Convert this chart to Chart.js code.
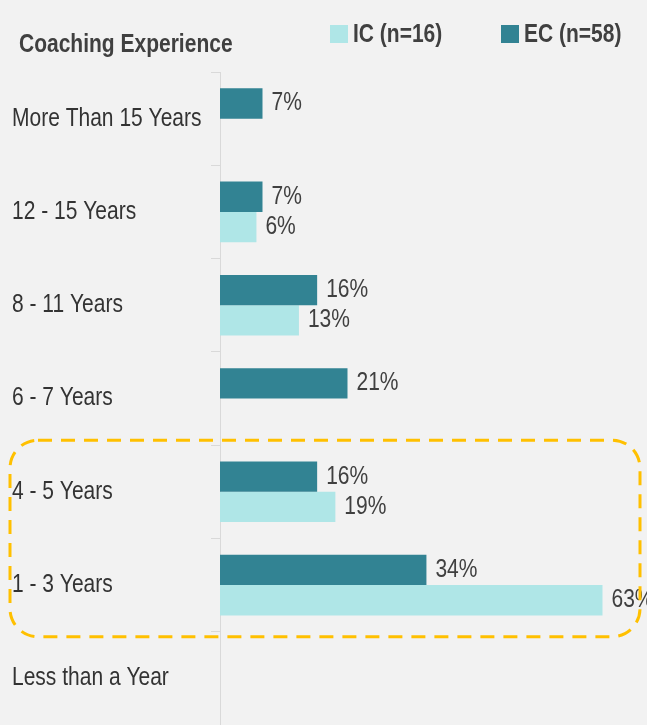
<!DOCTYPE html>
<html>
<head>
<meta charset="utf-8">
<style>
  html, body { margin: 0; padding: 0; background: #f2f2f2; }
  canvas { display: block; }
</style>
<script src="https://cdn.jsdelivr.net/npm/chart.js@4/dist/chart.umd.min.js"></script>
</head>
<body>
<canvas id="chart" width="647" height="725"></canvas>
<script>
// Coaching experience by group, share of respondents (%)
const categories = ['More Than 15 Years', '12 - 15 Years', '8 - 11 Years', '6 - 7 Years', '4 - 5 Years', '1 - 3 Years', 'Less than a Year'];
const ecValues = [7, 7, 16, 21, 16, 34, null];
const icValues = [null, 6, 13, null, 19, 63, null];
const seriesNames = { ic: 'IC (n=16)', ec: 'EC (n=58)' };
const chartTitle = 'Coaching Experience';
// categories highlighted by the dashed frame
const highlighted = ['4 - 5 Years', '1 - 3 Years'];

const EC_COLOR = '#328393';
const IC_COLOR = '#afe6e7';
const TEXT = '#404040';
const FONT = '"Liberation Sans", Arial, sans-serif';
// text is set in a tall, narrow cut: glyphs are stretched vertically
const STRETCH = 1.2;

function tallText(ctx, text, x, y, font, color) {
  ctx.save();
  ctx.font = font;
  ctx.fillStyle = color;
  ctx.textAlign = 'left';
  ctx.textBaseline = 'middle';
  ctx.translate(x, y);
  ctx.scale(1, STRETCH);
  ctx.fillText(text, 0, 0);
  ctx.restore();
}

const background = {
  id: 'background',
  beforeDraw(chart) {
    const { ctx, width, height } = chart;
    ctx.save();
    ctx.fillStyle = '#f2f2f2';
    ctx.fillRect(0, 0, width, height);
    ctx.restore();
  }
};

// category names, left aligned against the canvas edge
const categoryLabels = {
  id: 'categoryLabels',
  afterDraw(chart) {
    const y = chart.scales.y;
    y.ticks.forEach((t, i) => {
      tallText(chart.ctx, y.getLabelForValue(t.value), y.left, y.getPixelForTick(i), '21px ' + FONT, '#333333');
    });
  }
};

const valueLabels = {
  id: 'valueLabels',
  afterDatasetsDraw(chart) {
    chart.data.datasets.forEach((ds, di) => {
      const meta = chart.getDatasetMeta(di);
      meta.data.forEach((bar, i) => {
        const v = ds.data[i];
        if (v === null || v === undefined) return;
        tallText(chart.ctx, v + '%', bar.x + 9, bar.y, '21px ' + FONT, TEXT);
      });
    });
  }
};

const header = {
  id: 'header',
  afterDraw(chart) {
    const { ctx } = chart;
    tallText(ctx, chartTitle, 19, 45, 'bold 21px ' + FONT, TEXT);
    const items = [
      { x: 330, color: IC_COLOR, text: seriesNames.ic },
      { x: 501, color: EC_COLOR, text: seriesNames.ec }
    ];
    items.forEach(it => {
      ctx.save();
      ctx.fillStyle = it.color;
      ctx.fillRect(it.x, 25, 18, 18);
      ctx.restore();
      tallText(ctx, it.text, it.x + 23, 35, 'bold 21px ' + FONT, TEXT);
    });
  }
};

const highlightFrame = {
  id: 'highlightFrame',
  afterDraw(chart) {
    const { ctx, chartArea } = chart;
    const y = chart.scales.y;
    const i0 = categories.indexOf(highlighted[0]);
    const i1 = categories.indexOf(highlighted[highlighted.length - 1]);
    const band = y.getPixelForValue(1) - y.getPixelForValue(0);
    const top = y.getPixelForValue(i0) - band / 2 - 5;
    const bottom = y.getPixelForValue(i1) + band / 2 + 5;
    const left = 10;
    const right = chartArea.right - 5;
    const r = 28;
    ctx.save();
    ctx.strokeStyle = '#ffc000';
    ctx.lineWidth = 3;
    ctx.setLineDash([14, 9]);
    ctx.beginPath();
    ctx.roundRect(left, top, right - left, bottom - top, r);
    ctx.stroke();
    ctx.restore();
  }
};

new Chart(document.getElementById('chart'), {
  type: 'bar',
  data: {
    labels: categories,
    datasets: [
      { label: seriesNames.ec, data: ecValues, backgroundColor: EC_COLOR },
      { label: seriesNames.ic, data: icValues, backgroundColor: IC_COLOR }
    ]
  },
  options: {
    indexAxis: 'y',
    responsive: false,
    animation: false,
    events: [],
    layout: { padding: { left: 12, top: 72, right: 2, bottom: 0 } },
    datasets: { bar: { categoryPercentage: 0.65, barPercentage: 1.0 } },
    plugins: {
      legend: { display: false },
      title: { display: false },
      tooltip: { enabled: false }
    },
    scales: {
      x: {
        display: false,
        min: 0,
        max: 70
      },
      y: {
        position: 'left',
        afterFit(scale) {
          scale.width = 208;
          scale.paddingTop = 0;
          scale.paddingBottom = 0;
        },
        grid: {
          offset: true,
          drawOnChartArea: false,
          drawTicks: true,
          tickLength: 9,
          color: '#d9d9d9'
        },
        border: { display: true, color: '#d9d9d9', width: 1 },
        ticks: {
          display: false,
          autoSkip: false
        }
      }
    }
  },
  plugins: [background, valueLabels, categoryLabels, header, highlightFrame]
});
</script>
</body>
</html>
